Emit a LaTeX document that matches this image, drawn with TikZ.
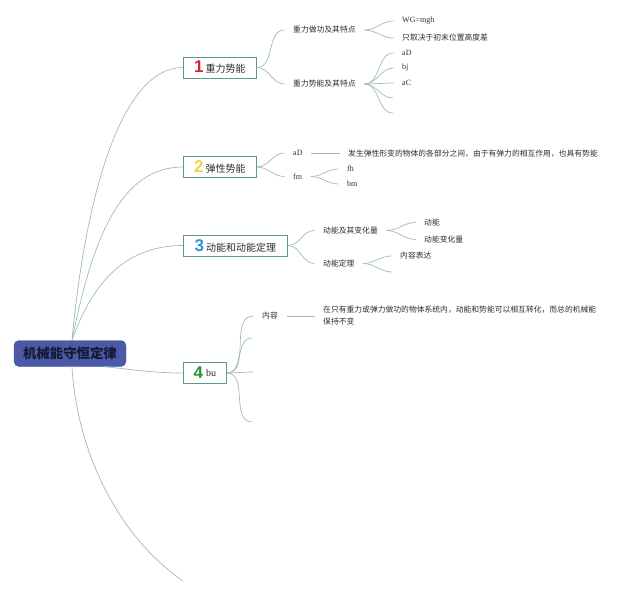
\documentclass[tikz,border=0pt]{standalone}
\usepackage{fontspec}
\setmainfont{Liberation Serif}
\newfontfamily\cjk{Noto Sans CJK SC}
\newfontfamily\digitfont{Liberation Sans}
\definecolor{lineC}{RGB}{160,188,178}
\definecolor{boxC}{RGB}{98,150,136}
\definecolor{rootC}{RGB}{74,90,166}
\definecolor{rootT}{RGB}{22,24,52}
\definecolor{txtC}{RGB}{45,45,45}
\definecolor{dRed}{RGB}{214,34,60}
\definecolor{dYel}{RGB}{242,212,72}
\definecolor{dBlu}{RGB}{40,152,214}
\definecolor{dGrn}{RGB}{40,150,50}
\newcommand{\dg}[2]{{\digitfont\bfseries\fontsize{17}{17}\selectfont\color{#1}#2}}
\begin{document}
\begin{tikzpicture}[x=1pt,y=-1pt,
  lnk/.style={draw=lineC,line width=0.7pt},
  rootbox/.style={fill=rootC,draw=rootC,rounded corners=5pt,minimum width=112pt,minimum height=26pt,inner sep=0pt,text=rootT,font=\cjk\bfseries\fontsize{13.4}{15}\selectfont},
  box/.style={draw=boxC,line width=0.9pt,fill=white,minimum height=21pt,inner xsep=0pt,inner ysep=0pt,anchor=west,text=txtC},
  leaf/.style={anchor=west,inner xsep=8.5pt,inner ysep=1pt,text=txtC,font=\cjk\fontsize{7.8}{9}\selectfont},
  latleaf/.style={anchor=west,inner xsep=8.5pt,inner ysep=1pt,text=txtC,font=\fontsize{8}{9}\selectfont},
  longleaf/.style={anchor=west,inner xsep=8.5pt,inner ysep=1pt,text=txtC,align=left,font=\cjk\fontsize{7.8}{12}\selectfont}
]
\useasboundingbox (0,0) rectangle (640,595);

% root
\node[rootbox] (root) at (70,353.5) {机械能守恒定律};

% main branches
\node[box,minimum width=73pt] (b1) at (183,67.5) {\dg{dRed}{1}\hspace{2pt}{\cjk\fontsize{10}{12}\selectfont 重力势能}};
\node[box,minimum width=73pt] (b2) at (183,167) {\dg{dYel}{2}\hspace{2pt}{\cjk\fontsize{10}{12}\selectfont 弹性势能}};
\node[box,minimum width=104pt] (b3) at (183,245.5) {\dg{dBlu}{3}\hspace{2pt}{\cjk\fontsize{10}{12}\selectfont 动能和动能定理}};
\node[box,minimum width=43pt] (b4) at (183,373) {\dg{dGrn}{4}\hspace{3pt}\raisebox{2pt}{\fontsize{10}{12}\selectfont bu}};
\coordinate (e5) at (183,581);

\draw[lnk] ([xshift=2pt]root.north) .. controls (85,200) and (120,67.5) .. (b1.west);
\draw[lnk] ([xshift=2pt]root.north) .. controls (92,240) and (120,167) .. (b2.west);
\draw[lnk] ([xshift=2pt]root.north) .. controls (90,290) and (120,245.5) .. (b3.west);
\draw[lnk] ([xshift=-22pt]root.south east) .. controls (130,369) and (150,373) .. (b4.west);
\draw[lnk] ([xshift=2pt]root.south) .. controls (76,440) and (110,530) .. (e5);

% branch 1
\node[leaf] (c11) at (284.5,30) {重力做功及其特点};
\node[leaf] (c12) at (284.5,84) {重力势能及其特点};
\node[latleaf] (c111) at (393.5,21) {WG=mgh};
\node[leaf] (c112) at (393.5,38) {只取决于初末位置高度差};
\node[latleaf] (c121) at (393.5,53) {aD};
\node[latleaf] (c122) at (393.5,68) {bj};
\node[latleaf] (c123) at (393.5,83) {aC};
\coordinate (e124) at (393,98);
\coordinate (e125) at (393,113);
\draw[lnk] (b1.east) to[out=0,in=180] (c11.west);
\draw[lnk] (b1.east) to[out=0,in=180] (c12.west);
\draw[lnk] (c11.east) to[out=0,in=180] (c111.west);
\draw[lnk] (c11.east) to[out=0,in=180] (c112.west);
\draw[lnk] (c12.east) to[out=0,in=180] (c121.west);
\draw[lnk] (c12.east) to[out=0,in=180] (c122.west);
\draw[lnk] (c12.east) to[out=0,in=180] (c123.west);
\draw[lnk] (c12.east) to[out=0,in=180] (e124);
\draw[lnk] (c12.east) to[out=0,in=180] (e125);

% branch 2
\node[latleaf] (c21) at (284.5,153) {aD};
\node[latleaf] (c22) at (284.5,176.5) {fm};
\node[leaf] (c211) at (339.5,153.5) {发生弹性形变的物体的各部分之间，由于有弹力的相互作用，也具有势能};
\node[latleaf] (c221) at (338.5,169) {fh};
\node[latleaf] (c222) at (338.5,184) {bm};
\draw[lnk] (b2.east) to[out=0,in=180] (c21.west);
\draw[lnk] (b2.east) to[out=0,in=180] (c22.west);
\draw[lnk] (c21.east) -- (c211.west |- c21.east);
\draw[lnk] (c22.east) to[out=0,in=180] (c221.west);
\draw[lnk] (c22.east) to[out=0,in=180] (c222.west);

% branch 3
\node[leaf] (c31) at (314.5,230.5) {动能及其变化量};
\node[leaf] (c32) at (314.5,263.5) {动能定理};
\node[leaf] (c311) at (415.5,222.5) {动能};
\node[leaf] (c312) at (415.5,239.5) {动能变化量};
\node[leaf] (c321) at (391.5,256) {内容表达};
\coordinate (e322) at (392,272);
\draw[lnk] (b3.east) to[out=0,in=180] (c31.west);
\draw[lnk] (b3.east) to[out=0,in=180] (c32.west);
\draw[lnk] (c31.east) to[out=0,in=180] (c311.west);
\draw[lnk] (c31.east) to[out=0,in=180] (c312.west);
\draw[lnk] (c32.east) to[out=0,in=180] (c321.west);
\draw[lnk] (c32.east) to[out=0,in=180] (e322);

% branch 4
\node[leaf] (c41) at (253.5,316) {内容};
\node[longleaf,anchor=north west] (c411) at (314.5,304.5) {在只有重力或弹力做功的物体系统内，动能和势能可以相互转化，而总的机械能\\保持不变};
\coordinate (e42) at (252,338);
\coordinate (e43) at (253,372);
\coordinate (e44) at (252,422);
\draw[lnk] (b4.east) to[out=0,in=180] (c41.west);
\draw[lnk] (b4.east) to[out=0,in=180] (e42);
\draw[lnk] (b4.east) to[out=0,in=180] (e43);
\draw[lnk] (b4.east) to[out=0,in=180] (e44);
\draw[lnk] (c41.east) -- (c41.east -| c411.west);
\end{tikzpicture}
\end{document}
